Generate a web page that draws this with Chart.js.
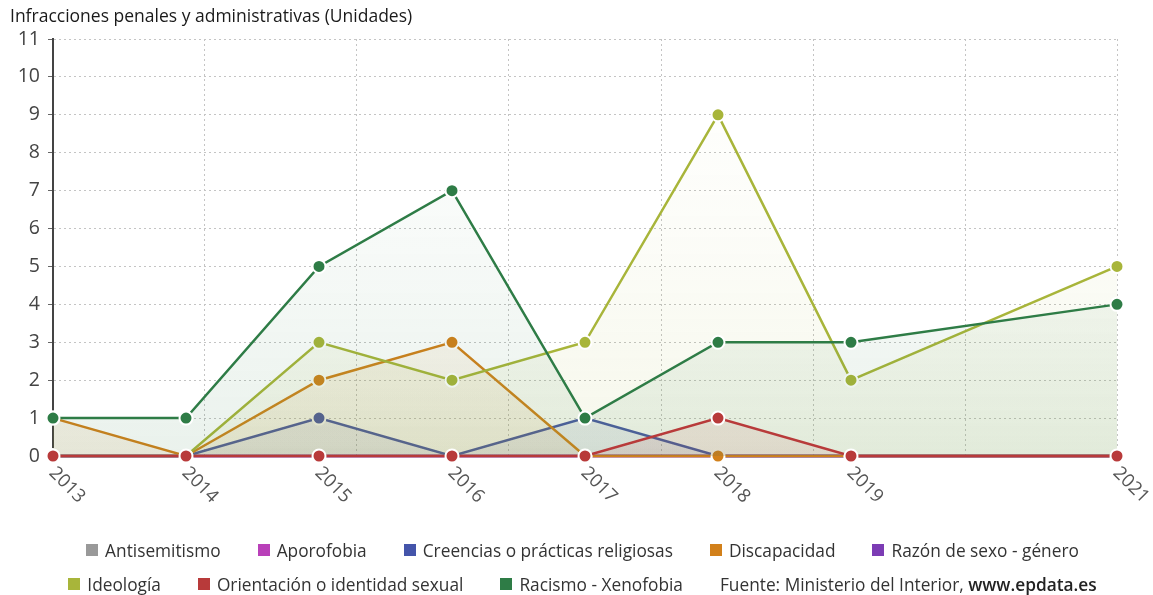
<!DOCTYPE html>
<html>
<head>
<meta charset="utf-8">
<script src="https://cdn.jsdelivr.net/npm/chart.js@4.4.0/dist/chart.umd.min.js"></script>
<style>
  html, body { margin: 0; padding: 0; background: #fff; }
  #wrap { position: relative; width: 1153px; height: 595px; font-family: "Open Sans", sans-serif; }
  #chart { position: absolute; left: 0; top: 0; }
  #title { position: absolute; left: 10px; top: 4px; font-size: 17.5px; line-height: 22px; color: #1a1a1a; white-space: nowrap; }
  #legend { position: absolute; left: 6px; top: 533px; width: 1153px; }
  .row { display: flex; justify-content: center; gap: 37px; height: 34px; align-items: center; font-size: 17.3px; color: #333; white-space: nowrap; }
  .item { display: flex; align-items: center; }
  .src { display: block; }
  .box { width: 12px; height: 12px; margin-right: 7px; }
  .src b { font-weight: 600; color: #222; }
</style>
</head>
<body>
<div id="wrap">
  <canvas id="chart" width="1153" height="595"></canvas>
  <div id="title">Infracciones penales y administrativas (Unidades)</div>
  <div id="legend"></div>
</div>
<script>
// Years with data (2020 is absent)
const years = [2013, 2014, 2015, 2016, 2017, 2018, 2019, 2021];
const yTicks = [0, 1, 2, 3, 4, 5, 6, 7, 8, 9, 10, 11];

// Series values per year
const antisemitismo = [0, 0, 0, 0, 0, 0, 0, 0];
const aporofobia = [0, 0, 0, 0, 0, 0, 0, 0];
const creencias = [0, 0, 1, 0, 1, 0, 0, 0];
const discapacidad = [1, 0, 2, 3, 0, 0, 0, 0];
const razonSexo = [0, 0, 0, 0, 0, 0, 0, 0];
const ideologia = [0, 0, 3, 2, 3, 9, 2, 5];
const orientacion = [0, 0, 0, 0, 0, 1, 0, 0];
const racismo = [1, 1, 5, 7, 1, 3, 3, 4];

const series = [
  { name: 'Antisemitismo', values: antisemitismo, color: [153, 153, 153], order: 7 },
  { name: 'Aporofobia', values: aporofobia, color: [185, 64, 185], order: 6 },
  { name: 'Creencias o prácticas religiosas', values: creencias, color: [68, 84, 170], order: 4 },
  { name: 'Discapacidad', values: discapacidad, color: [210, 128, 26], order: 3 },
  { name: 'Razón de sexo - género', values: razonSexo, color: [124, 60, 180], order: 5 },
  { name: 'Ideología', values: ideologia, color: [168, 181, 58], order: 2 },
  { name: 'Orientación o identidad sexual', values: orientacion, color: [184, 58, 58], order: 0 },
  { name: 'Racismo - Xenofobia', values: racismo, color: [46, 124, 70], order: 1 },
];
const legendRows = [[0, 1, 2, 3, 4], [5, 6, 7]];
const sourceText = 'Fuente: Ministerio del Interior, ';
const sourceLink = 'www.epdata.es';
const gridDivisions = 7;

const rgba = (c, a) => `rgba(${c[0]},${c[1]},${c[2]},${a})`;

function areaFill(c) {
  return (ctx) => {
    const area = ctx.chart.chartArea;
    if (!area) return rgba(c, 0.05);
    const g = ctx.chart.ctx.createLinearGradient(0, area.top, 0, area.bottom);
    g.addColorStop(0, rgba(c, 0.0));
    g.addColorStop(0.5, rgba(c, 0.04));
    g.addColorStop(1, rgba(c, 0.10));
    return g;
  };
}

const datasets = series.map(s => ({
  label: s.name,
  data: s.values.map((v, i) => ({ x: years[i], y: v })),
  borderColor: rgba(s.color, 1),
  backgroundColor: areaFill(s.color),
  pointBackgroundColor: rgba(s.color, 1),
  pointBorderColor: '#fff',
  pointBorderWidth: 2,
  pointRadius: 6.5,
  borderWidth: 2.5,
  fill: 'origin',
  tension: 0,
  clip: false,
  order: s.order,
}));

// Rotated year labels under the x axis
const yearLabels = {
  id: 'yearLabels',
  afterDraw(chart) {
    const { ctx, chartArea, scales } = chart;
    ctx.save();
    ctx.font = '18.5px "Open Sans"';
    ctx.fillStyle = '#555';
    ctx.textAlign = 'left';
    ctx.textBaseline = 'middle';
    years.forEach(y => {
      const x = scales.x.getPixelForValue(y);
      ctx.save();
      ctx.translate(x - 1, chartArea.bottom + 14);
      ctx.rotate(Math.PI / 4);
      ctx.fillText(String(y), 0, 0);
      ctx.restore();
    });
    ctx.restore();
  }
};

new Chart(document.getElementById('chart'), {
  type: 'line',
  data: { datasets },
  plugins: [yearLabels],
  options: {
    responsive: false,
    animation: false,
    layout: { padding: { left: 0, right: 36, top: 39, bottom: 0 } },
    plugins: { legend: { display: false }, tooltip: { enabled: false }, title: { display: false } },
    scales: {
      x: {
        type: 'linear',
        min: years[0],
        max: years[years.length - 1],
        afterBuildTicks(scale) {
          const step = (scale.max - scale.min) / gridDivisions;
          scale.ticks = Array.from({ length: gridDivisions + 1 }, (_, k) => ({ value: scale.min + k * step }));
        },
        afterFit(scale) { scale.height = 139; },
        ticks: { display: false },
        grid: { color: '#c4c4c4', lineWidth: 1, drawTicks: false },
        border: { display: false, dash: [2, 3] },
      },
      y: {
        min: 0,
        max: 11,
        afterBuildTicks(scale) { scale.ticks = yTicks.map(v => ({ value: v })); },
        afterFit(scale) { scale.width = 53; },
        ticks: { font: { family: '"Open Sans"', size: 19.5 }, color: '#444', padding: 8 },
        grid: { color: '#c4c4c4', lineWidth: 1, tickLength: 5, tickColor: '#666' },
        border: { display: true, color: '#444', width: 2, dash: [2, 3] },
      }
    }
  }
});

// Legend rows
const legend = document.getElementById('legend');
legendRows.forEach((row, r) => {
  const div = document.createElement('div');
  div.className = 'row';
  row.forEach(i => {
    const item = document.createElement('div');
    item.className = 'item';
    const box = document.createElement('span');
    box.className = 'box';
    box.style.background = rgba(series[i].color, 1);
    item.appendChild(box);
    item.appendChild(document.createTextNode(series[i].name));
    div.appendChild(item);
  });
  if (r === legendRows.length - 1) {
    const src = document.createElement('div');
    src.className = 'src';
    src.appendChild(document.createTextNode(sourceText));
    const b = document.createElement('b');
    b.textContent = sourceLink;
    src.appendChild(b);
    div.appendChild(src);
  }
  legend.appendChild(div);
});
</script>
</body>
</html>
